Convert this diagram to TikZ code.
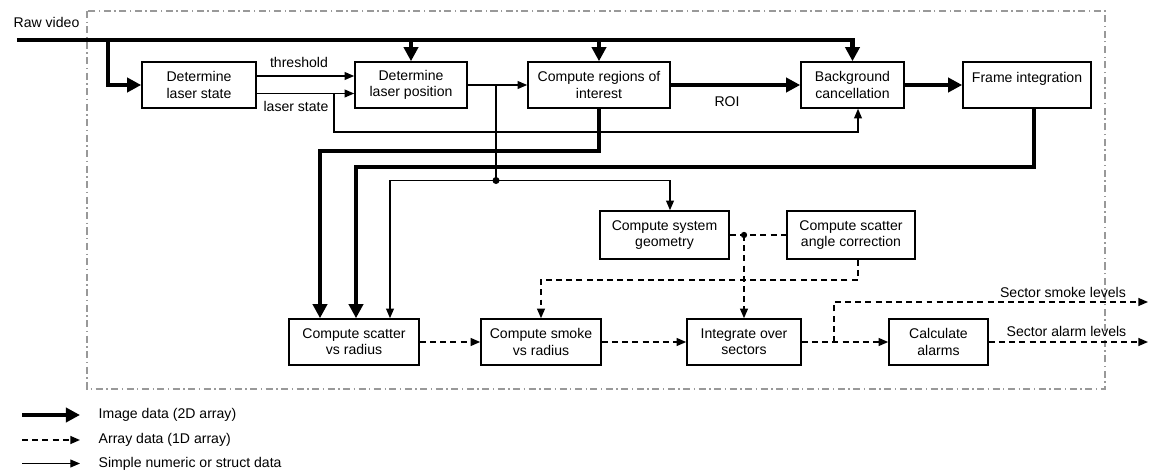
\documentclass[tikz,border=0pt]{standalone}
\usepackage{fontspec}
\setmainfont{Liberation Sans}
\usetikzlibrary{positioning, arrows.meta}

\begin{document}
\begin{tikzpicture}[
    node distance=4cm, on grid,
    every node/.style={font=\fontsize{8}{9.2}\selectfont},
    block/.style={rectangle, draw, line width=0.9pt, minimum height=0.92cm, inner sep=1pt, align=center},
    img/.style={line width=2.3pt, -{Triangle[length=8pt, width=8pt]}},
    vec/.style={line width=0.9pt, dash pattern=on 3.4pt off 2.4pt, -{Triangle[length=5.5pt, width=4.5pt]}},
    num/.style={line width=0.7pt, -{Triangle[length=5.5pt, width=4.5pt]}}
]
    \useasboundingbox (0,0) rectangle (23,-9.5);
    \draw[black!40, line width=0.6pt, dash pattern=on 4pt off 2pt on 0.8pt off 2pt] (1.74,-0.22) rectangle (22.10,-7.78);

    \node[block, minimum width=2.28cm] (lstate) at (3.98,-1.70) {Determine\\laser state};
    \node[block, minimum width=2.24cm] (lpos) [right=4.24cm of lstate] {Determine\\laser position};
    \node[block, minimum width=2.84cm] (roi) [right=3.76cm of lpos] {Compute regions of\\interest};
    \node[block, minimum width=2.06cm] (bgc) [right=5.07cm of roi] {Background\\cancellation};
    \node[block, minimum width=2.56cm] (frame) [right=3.49cm of bgc] {Frame integration\\\mbox{}};

    \node[block, minimum width=2.58cm, minimum height=0.96cm] (geom) at (13.29,-4.70) {Compute system\\geometry};
    \node[block, minimum width=2.56cm, minimum height=0.96cm] (angle) [right=3.73cm of geom] {Compute scatter\\angle correction};

    \node[block, minimum width=2.60cm] (scat) at (7.08,-6.84) {Compute scatter\\vs radius};
    \node[block, minimum width=2.40cm] (smoke) [right=3.74cm of scat] {Compute smoke\\vs radius};
    \node[block, minimum width=2.28cm] (integ) [right=4.06cm of smoke] {Integrate over\\sectors};
    \node[block, minimum width=1.98cm] (alarm) [right=3.89cm of integ] {Calculate\\alarms};

    \node[anchor=west] (raw) at (0.15,-0.44) {Raw video};
    \node (thr) at (5.98,-1.24) {threshold};
    \node (lsl) at (5.92,-2.12) {laser state};
    \node (roil) at (14.54,-2.04) {ROI};
    \node (smokel) at (21.26,-5.84) {Sector smoke levels};
    \node (alarml) at (21.33,-6.62) {Sector alarm levels};

    \coordinate (rawin) at (0.34,-0.80);
    \coordinate (rawtap) at (2.16,-0.80);
    \coordinate (lsfork) at (6.68,-1.87);
    \coordinate (postap) at (9.92,-1.70);
    \coordinate (posdot) at (9.92,-3.61);
    \coordinate (gdot) at (integ.north |- geom.east);
    \coordinate (sfork) at (16.68,-6.84);
    \coordinate (smokeout) at (22.96,-6.04);
    \coordinate (alarmout) at (22.96,-6.84);

    % image data
    \draw[img] (rawin) -| (bgc.north);
    \draw[img] (rawtap) |- (lstate.west);
    \draw[img] (lpos.north |- rawin) -- (lpos.north);
    \draw[img] (roi.north |- rawin) -- (roi.north);
    \draw[img] (roi) -- (bgc);
    \draw[img] (bgc) -- (frame);
    \draw[img] (roi.south) -- ++(0,-0.84) -| ([xshift=-0.68cm]scat.north);
    \draw[img] ([xshift=0.14cm]frame.south) -- ++(0,-1.17) -| ([xshift=0.04cm]scat.north);

    % simple data
    \draw[num] ([yshift=0.18cm]lstate.east) -- ([yshift=0.18cm]lpos.west);
    \draw[num] ([yshift=-0.17cm]lstate.east) -- ([yshift=-0.17cm]lpos.west);
    \draw[num] (lsfork) -- ++(0,-0.77) -| ([xshift=0.11cm]bgc.south);
    \draw[num] (lpos) -- (roi);
    \draw[line width=0.7pt] (postap) -- (posdot);
    \draw[num] (posdot) -| ([xshift=0.72cm]scat.north);
    \draw[num] (posdot) -| ([xshift=0.11cm]geom.north);
    \fill (posdot) circle (2pt);

    % array data
    \draw[vec, -] (geom) -- (angle);
    \draw[vec] (gdot) -- (integ.north);
    \fill (gdot) circle (1.8pt);
    \draw[vec] ([xshift=0.14cm]angle.south) -- ++(0,-0.40) -| (smoke.north);
    \draw[vec] (scat) -- (smoke);
    \draw[vec] (smoke) -- (integ);
    \draw[vec] (integ) -- (alarm);
    \draw[vec] (sfork) |- (smokeout);
    \draw[vec] (alarm) -- (alarmout);

    % legend
    \node[anchor=west] (limg) at (1.85,-8.30) {Image data (2D array)};
    \node[anchor=west] (lvec) at (1.85,-8.80) {Array data (1D array)};
    \node[anchor=west] (lnum) at (1.85,-9.27) {Simple numeric or struct data};
    \draw[img] ([xshift=-1.41cm]limg.west) -- ([xshift=-0.25cm]limg.west);
    \draw[vec] ([xshift=-1.41cm]lvec.west) -- ([xshift=-0.25cm]lvec.west);
    \draw[num] ([xshift=-1.41cm]lnum.west) -- ([xshift=-0.25cm]lnum.west);
\end{tikzpicture}
\end{document}
